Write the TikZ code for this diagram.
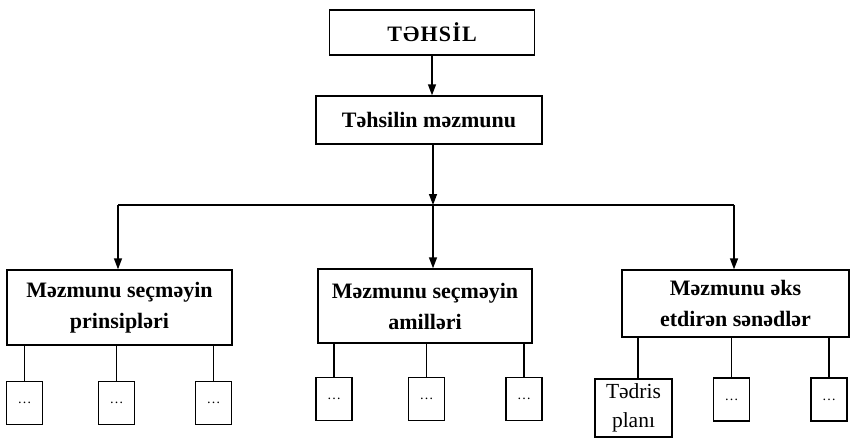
\documentclass[tikz,border=0pt]{standalone}
\usepackage{fontspec}
\setmainfont{Liberation Serif}
\usetikzlibrary{arrows.meta}
\begin{document}
\begin{tikzpicture}[x=1pt,y=-1pt,
  box/.style={draw,line width=1.4pt,inner sep=0pt,align=center,font=\fontsize{22}{31}\selectfont\bfseries},
  small/.style={draw,line width=1.4pt,inner sep=0pt,minimum width=36pt,minimum height=43pt,font=\fontsize{14}{15}\selectfont},
  link/.style={line width=1.4pt},
  arr/.style={line width=1.4pt,-{Triangle[length=11pt,width=8pt]}}]
\useasboundingbox (0,0) rectangle (850,447);
\node[box,minimum width=205pt,minimum height=45pt] (top) at (432,32.5) {T\kern1.2ptƏ\kern1.2ptH\kern1.2ptS\kern1.2pt\.{I}\kern1.2ptL};
\node[box,minimum width=226pt,minimum height=48pt] (cont) at (429,120) {Təhsilin məzmunu};
\node[box,minimum width=225pt,minimum height=75pt] (L) at (119.5,307.5) {Məzmunu seçməyin\\prinsipləri};
\node[box,minimum width=214pt,minimum height=74pt] (M) at (425,306) {Məzmunu seçməyin\\amilləri};
\node[box,minimum width=227pt,minimum height=67pt] (R) at (735.5,303.5) {Məzmunu əks\\etdirən sənədlər};
\coordinate (bus) at (433,205);
\coordinate (busL) at (118,205);
\coordinate (busR) at (734,205);
\draw[arr] (top.south) -- (top.south |- cont.north);
\draw[arr] (cont.south -| bus) -- (bus);
\draw[link] (busL) -- (busR);
\draw[arr] (busL) -- (busL |- L.north);
\draw[arr] (bus) -- (bus |- M.north);
\draw[arr] (busR) -- (busR |- R.north);
% left children
\node[small] (l1) at (24.5,403) {\ldots};
\node[small] (l2) at (116.5,403) {\ldots};
\node[small] (l3) at (213.5,403) {\ldots};
% middle children
\node[small] (m1) at (334,399) {\ldots};
\node[small] (m2) at (426.5,399) {\ldots};
\node[small] (m3) at (524,399) {\ldots};
% right children
\node[draw,line width=1.4pt,inner sep=0pt,minimum width=77pt,minimum height=58pt,align=center,font=\fontsize{21.5}{29}\selectfont] (r1) at (633.5,408) {Tədris\\planı};
\node[small] (r2) at (731.5,399.5) {\ldots};
\node[small] (r3) at (829,399.5) {\ldots};
\foreach \c/\p in {l1/L,l2/L,l3/L,m1/M,m2/M,m3/M,r2/R,r3/R}
  \draw[link] (\c.north |- \p.south) -- (\c.north);
\draw[link] (638,0 |- R.south) -- (638,0 |- r1.north);
\end{tikzpicture}
\end{document}
